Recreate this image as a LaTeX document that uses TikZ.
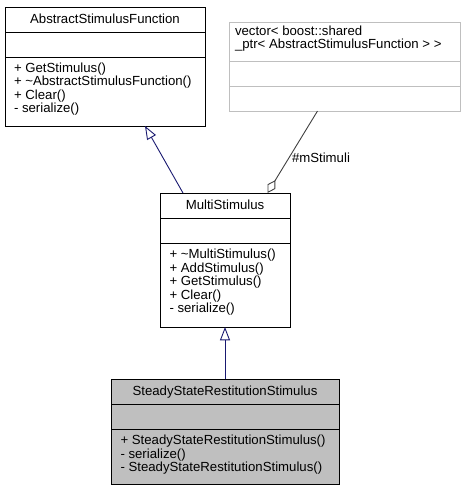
\documentclass[tikz,border=0pt]{standalone}
\usepackage{fontspec}
\setmainfont{Liberation Sans}
\usetikzlibrary{arrows.meta}
\definecolor{edgeblue}{HTML}{191970}
\definecolor{boxgray}{HTML}{BFBFBF}
\definecolor{darkedge}{HTML}{404040}
\begin{document}
\begin{tikzpicture}[x=1pt,y=-1pt,
  every node/.style={font=\fontsize{13.2}{13.6}\selectfont, inner sep=0pt, outer sep=0pt},
  classbox/.style={draw=black, line width=0.9pt, anchor=north west, rectangle},
  sepline/.style={line width=0.9pt},
  title/.style={anchor=base},
  member/.style={anchor=base west},
  inherit/.style={draw=edgeblue, line width=0.9pt, -{Triangle[open, length=13.3pt, width=10pt, line width=0.9pt]}},
  aggreg/.style={draw=darkedge, line width=0.9pt, -{Diamond[open, length=15pt, width=9pt, line width=0.9pt]}}]
\useasboundingbox (0,0) rectangle (465,491);

% AbstractStimulusFunction
\node[classbox, minimum width=200pt, minimum height=119pt] (A) at (5,7) {};
\draw[sepline] ([yshift=-25pt]A.north west) -- ([yshift=-25pt]A.north east);
\draw[sepline] ([yshift=-50pt]A.north west) -- ([yshift=-50pt]A.north east);
\node[title] (At) at (105,23.5) {AbstractStimulusFunction};
\node[member] (A1) at (14,72.3) {+ GetStimulus()};
\node[member] (A2) at (14,85.8) {+ \textasciitilde AbstractStimulusFunction()};
\node[member] (A3) at (14,99.3) {+ Clear()};
\node[member] (A4) at (14,112.8) {- serialize()};

% vector box
\node[classbox, draw=boxgray, minimum width=231pt, minimum height=89pt] (V) at (229,22) {};
\draw[sepline, draw=boxgray] ([yshift=-39pt]V.north west) -- ([yshift=-39pt]V.north east);
\draw[sepline, draw=boxgray] ([yshift=-64.5pt]V.north west) -- ([yshift=-64.5pt]V.north east);
\node[member] (V1) at (235,35) {vector< boost::shared};
\node[member] (V2) at (235,48.5) {\_ptr< AbstractStimulusFunction > >};

% MultiStimulus
\node[classbox, minimum width=130pt, minimum height=134pt] (M) at (160,193) {};
\draw[sepline] ([yshift=-25pt]M.north west) -- ([yshift=-25pt]M.north east);
\draw[sepline] ([yshift=-50pt]M.north west) -- ([yshift=-50pt]M.north east);
\node[title] (Mt) at (225,209.5) {MultiStimulus};
\node[member] (M1) at (169.5,258.5) {+ \textasciitilde MultiStimulus()};
\node[member] (M2) at (169.5,272) {+ AddStimulus()};
\node[member] (M3) at (169.5,285.5) {+ GetStimulus()};
\node[member] (M4) at (169.5,299) {+ Clear()};
\node[member] (M5) at (169.5,312.5) {- serialize()};

% SteadyStateRestitutionStimulus
\node[classbox, fill=boxgray, minimum width=228pt, minimum height=105pt] (S) at (111,379) {};
\draw[sepline] ([yshift=-25pt]S.north west) -- ([yshift=-25pt]S.north east);
\draw[sepline] ([yshift=-50pt]S.north west) -- ([yshift=-50pt]S.north east);
\node[title] (St) at (225,395.5) {SteadyStateRestitutionStimulus};
\node[member] (S1) at (120.5,444.5) {+ SteadyStateRestitutionStimulus()};
\node[member] (S2) at (120.5,458) {- serialize()};
\node[member] (S3) at (120.5,471.5) {- SteadyStateRestitutionStimulus()};

% connectors
\draw[inherit] ([xshift=23pt]M.north west) -- ([xshift=140pt]A.south west);
\draw[inherit] (S.north) -- (M.south);
\draw[aggreg] ([xshift=88.5pt]V.south west) -- ([xshift=107.5pt]M.north west);
\node[member] (lab) at (292,162) {\#mStimuli};
\end{tikzpicture}
\end{document}
